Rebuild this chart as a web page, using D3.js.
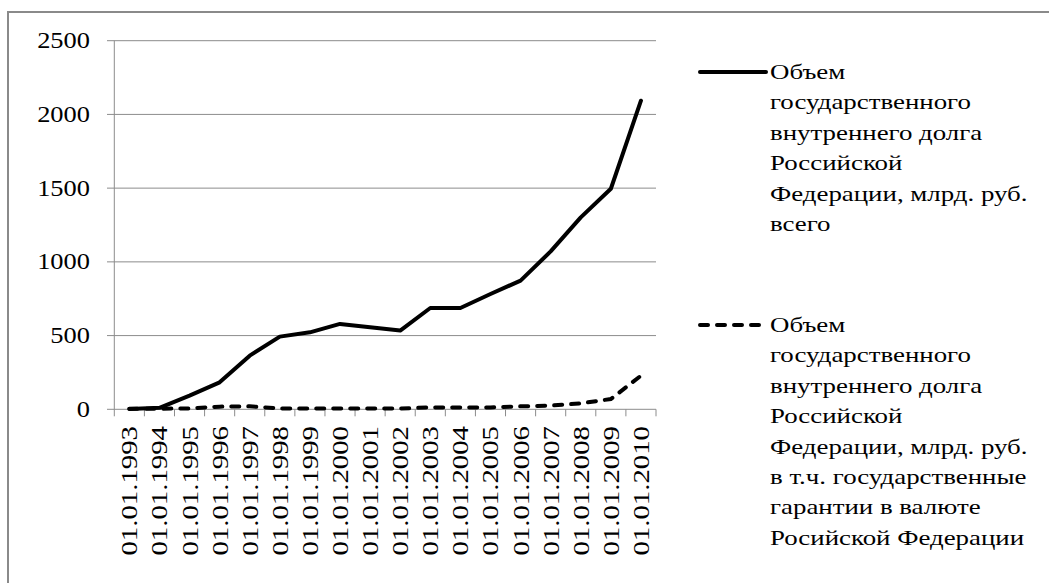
<!DOCTYPE html>
<html><head><meta charset="utf-8"><script src="https://cdn.jsdelivr.net/npm/d3@7"></script></head>
<body style="margin:0">
<svg id="s" width="1049" height="583"></svg>
<script>
const categories = ["01.01.1993","01.01.1994","01.01.1995","01.01.1996","01.01.1997","01.01.1998",
  "01.01.1999","01.01.2000","01.01.2001","01.01.2002","01.01.2003","01.01.2004","01.01.2005",
  "01.01.2006","01.01.2007","01.01.2008","01.01.2009","01.01.2010"];
const totalDebt = [2, 10, 93, 183, 364, 493, 522, 579, 556, 534, 687, 687, 782, 873, 1071, 1302, 1496, 2093];
const guarantees = [3, 4, 6, 18, 20, 6, 5, 5, 5, 5, 13, 13, 13, 20, 25, 40, 70, 228];
const yTicks = [0, 500, 1000, 1500, 2000, 2500];
const legendLabels = [
  ["Объем", "государственного", "внутреннего долга", "Российской", "Федерации, млрд. руб.", "всего"],
  ["Объем", "государственного", "внутреннего долга", "Российской", "Федерации, млрд. руб.", "в т.ч. государственные", "гарантии в валюте", "Росийской Федерации"]
];

const svg = d3.select("#s");
const gridColor = "#8c8c8c";
const FONT = '"Liberation Serif"';

// outer frame (cropped on right/bottom)
svg.append("rect").attr("x", 8).attr("y", 12).attr("width", 1100).attr("height", 700)
  .attr("fill", "none").attr("stroke", "#8a8a8a").attr("stroke-width", 2);

const x = d3.scaleBand().domain(categories).range([114.3, 656]);
const y = d3.scaleLinear().domain([0, 2500]).range([409.3, 40.7]);

// gridlines
svg.append("g").selectAll("line").data(yTicks).join("line")
  .attr("x1", 107).attr("x2", 656)
  .attr("y1", d => y(d)).attr("y2", d => y(d))
  .attr("stroke", gridColor).attr("stroke-width", 1);

// y axis line
svg.append("line").attr("x1", 114.3).attr("x2", 114.3).attr("y1", y(2500)).attr("y2", y(0))
  .attr("stroke", gridColor).attr("stroke-width", 1);

// x tick marks at band boundaries
const bounds = categories.map(c => x(c)).concat([x(categories[categories.length - 1]) + x.bandwidth()]);
svg.append("g").selectAll("line").data(bounds).join("line")
  .attr("x1", d => d).attr("x2", d => d)
  .attr("y1", y(0)).attr("y2", y(0) + 7)
  .attr("stroke", gridColor).attr("stroke-width", 1);

// y tick labels
svg.append("g").selectAll("text").data(yTicks).join("text")
  .style("font-family", FONT)
  .attr("font-size", 23)
  .attr("text-anchor", "end")
  .attr("transform", d => `translate(90,${y(d) + 7.5}) scale(1.15,1)`)
  .text(d => d);

// x tick labels (rotated)
svg.append("g").selectAll("text").data(categories).join("text")
  .style("font-family", FONT)
  .attr("font-size", 24)
  .attr("text-anchor", "end")
  .attr("transform", d => `translate(${x(d) + x.bandwidth() / 2 + 8},426) rotate(-90) scale(1.2,1)`)
  .text(d => d);

const line = d3.line()
  .x((d, i) => x(categories[i]) + x.bandwidth() / 2)
  .y(d => y(d));

svg.append("path").datum(totalDebt)
  .attr("d", line).attr("fill", "none").attr("stroke", "#000")
  .attr("stroke-width", 4).attr("stroke-linejoin", "round").attr("stroke-linecap", "round");

svg.append("path").datum(guarantees)
  .attr("d", line).attr("fill", "none").attr("stroke", "#000")
  .attr("stroke-width", 4).attr("stroke-dasharray", "8,9").attr("stroke-linecap", "round");

// legend
const legendY = [72, 325];
const lineH = 30.4;
legendLabels.forEach((lines, k) => {
  const g = svg.append("g");
  g.append("line").attr("x1", 700).attr("x2", 766)
    .attr("y1", legendY[k]).attr("y2", legendY[k])
    .attr("stroke", "#000").attr("stroke-width", 4).attr("stroke-linecap", "round")
    .attr("stroke-dasharray", k === 1 ? "8,9" : null);
  g.selectAll("text").data(lines).join("text")
    .style("font-family", FONT)
    .attr("font-size", 21.5)
    .attr("transform", (d, i) => `translate(770,${legendY[k] + 7 + i * lineH}) scale(1.25,1)`)
    .text(d => d);
});
</script></body></html>
